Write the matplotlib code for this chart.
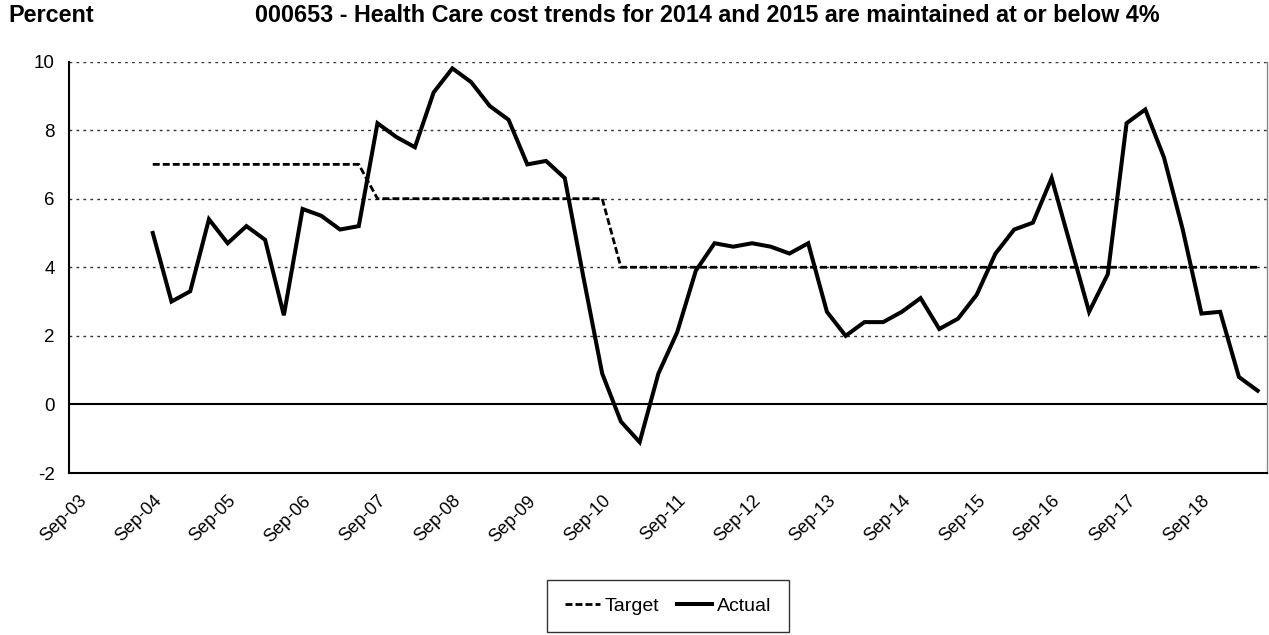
import matplotlib
matplotlib.use("Agg")
import matplotlib.pyplot as plt
import pandas as pd

plt.rcParams['font.family'] = ['Liberation Sans', 'DejaVu Sans']

# quarterly categories Sep-03 .. Jun-19, labels every 4th quarter
quarters = pd.date_range("2003-09-01", "2019-06-01", freq="3MS").strftime("%b-%y").tolist()
first_quarter = "Sep-04"

target = [7, 7, 7, 7, 7, 7, 7, 7, 7, 7, 7, 7,
          6, 6, 6, 6, 6, 6, 6, 6, 6, 6, 6, 6, 6,
          4, 4, 4, 4, 4, 4, 4, 4, 4, 4, 4, 4, 4, 4, 4, 4, 4, 4,
          4, 4, 4, 4, 4, 4, 4, 4, 4, 4, 4, 4, 4, 4, 4, 4, 4]
actual = [5.0, 3.0, 3.3, 5.4, 4.7, 5.2, 4.8, 2.6, 5.7, 5.5, 5.1, 5.2,
          8.2, 7.8, 7.5, 9.1, 9.8, 9.4, 8.7, 8.3, 7.0, 7.1, 6.6, 3.7,
          0.9, -0.5, -1.1, 0.9, 2.1, 3.9, 4.7, 4.6, 4.7, 4.6, 4.4, 4.7,
          2.7, 2.0, 2.4, 2.4, 2.7, 3.1, 2.2, 2.5, 3.2, 4.4, 5.1, 5.3,
          6.6, 4.65, 2.7, 3.8, 8.2, 8.6, 7.2, 5.1, 2.65, 2.7, 0.8, 0.4]

y_ticks = [-2, 0, 2, 4, 6, 8, 10]

start = quarters.index(first_quarter)
x = list(range(start, start + len(actual)))

fig = plt.figure(figsize=(12.69, 6.35), dpi=100)
ax = fig.add_axes([68.5 / 1269, 1 - 473 / 635, (1267 - 68.5) / 1269, (473 - 61.5) / 635])

for yv in y_ticks[2:]:
    ax.axhline(yv, color='#333333', lw=1, ls=(0, (2, 3)), zorder=1)
ax.axhline(0, color='black', lw=1.5, zorder=2)

ax.plot(x, target, color='black', lw=2, ls=(0, (2.5, 1.1)), label='Target', zorder=3)
ax.plot(x, actual, color='black', lw=2.9, solid_joinstyle='miter', label='Actual', zorder=4)

ax.set_xlim(-0.5, len(quarters) - 0.5)
ax.set_ylim(-2, 10)
ax.set_yticks(y_ticks)
ax.set_yticklabels([str(v) for v in y_ticks], fontsize=13.5)

tick_pos = list(range(0, len(quarters), 4))
ax.set_xticks(tick_pos)
ax.set_xticklabels([quarters[i] for i in tick_pos], rotation=45, ha='right',
                   rotation_mode='anchor', fontsize=13)
ax.tick_params(axis='both', length=0)
ax.tick_params(axis='y', pad=10)
ax.tick_params(axis='x', pad=14)

ax.spines['top'].set_visible(False)
ax.spines['right'].set_color('#888888')
ax.spines['right'].set_linewidth(1)
ax.spines['left'].set_linewidth(1.5)
ax.spines['bottom'].set_linewidth(1.5)

fig.text(8 / 1269, 1 - 16 / 635, 'Percent', fontsize=16.8, fontweight='bold', va='center')
fig.text(255 / 1269, 1 - 16 / 635,
         '000653 - Health Care cost trends for 2014 and 2015 are maintained at or below 4%',
         fontsize=16.8, fontweight='bold', va='center')

leg = fig.legend(loc='center', bbox_to_anchor=(668 / 1269, 1 - 606 / 635), ncol=2,
                 frameon=True, fancybox=False, edgecolor='black', fontsize=14,
                 handlelength=1.8, handletextpad=0.25, columnspacing=0.9,
                 borderpad=0.9)
leg.get_frame().set_linewidth(1)

fig.savefig('out.png', dpi=100)
